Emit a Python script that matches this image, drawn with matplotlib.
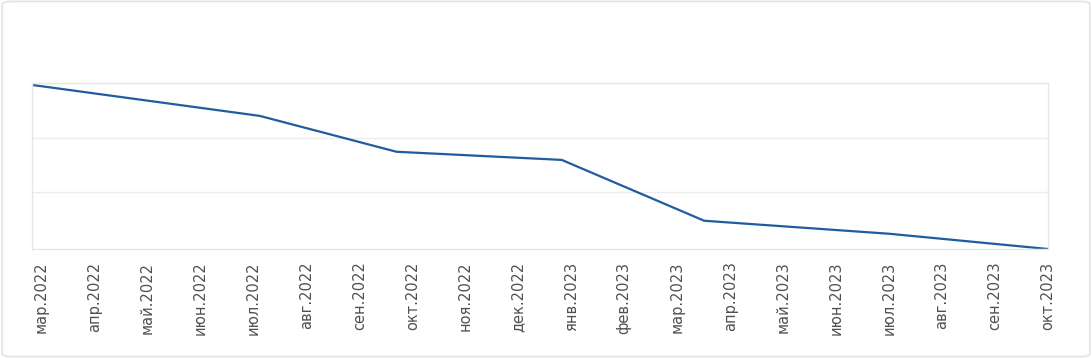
import matplotlib
matplotlib.use('Agg')
import matplotlib.pyplot as plt
from matplotlib.patches import FancyBboxPatch

# month labels along the x axis
months = ['мар.2022', 'апр.2022', 'май.2022', 'июн.2022', 'июл.2022', 'авг.2022',
          'сен.2022', 'окт.2022', 'ноя.2022', 'дек.2022', 'янв.2023', 'фев.2023',
          'мар.2023', 'апр.2023', 'май.2023', 'июн.2023', 'июл.2023', 'авг.2023',
          'сен.2023', 'окт.2023']

# data points (x in months from mar.2022, y in arbitrary units; no y labels shown)
point_x = [-0.18, 4.12, 6.70, 9.82, 12.51, 16.01, 19.0]
point_y = [2.97, 2.40, 1.74, 1.59, 0.47, 0.23, -0.05]

fig = plt.figure(figsize=(10.92, 3.58), dpi=100)
ax = fig.add_axes([32 / 1092, 1 - 249 / 358, 1016 / 1092, (249 - 83.3) / 358])

ax.plot(point_x, point_y, color='#215d9e', linewidth=1.6, solid_joinstyle='round')

ax.set_xlim(-0.18, 19)
ax.set_ylim(-0.05, 3)
ax.set_yticks([1, 2, 3])
ax.set_yticklabels([])
ax.tick_params(axis='y', length=0)
ax.set_xticks(range(len(months)))
ax.set_xticklabels(months, rotation=90, fontsize=10.5, color='#505050',
                   family=['DejaVu Sans'])
ax.tick_params(axis='x', length=0, pad=9)
ax.grid(axis='y', color='#ececec', linewidth=1)
for side in ['top', 'bottom', 'left', 'right']:
    ax.spines[side].set_color('#e6e6e6')
    ax.spines[side].set_linewidth(1)

# rounded card border around the whole figure
card = FancyBboxPatch((0.002, 0.004), 0.996, 0.992, boxstyle='round,pad=0,rounding_size=0.008',
                      transform=fig.transFigure, facecolor='none', edgecolor='#e3e3e3',
                      linewidth=1.2, zorder=-1)
fig.patches.append(card)

fig.savefig('out.png', dpi=100)
